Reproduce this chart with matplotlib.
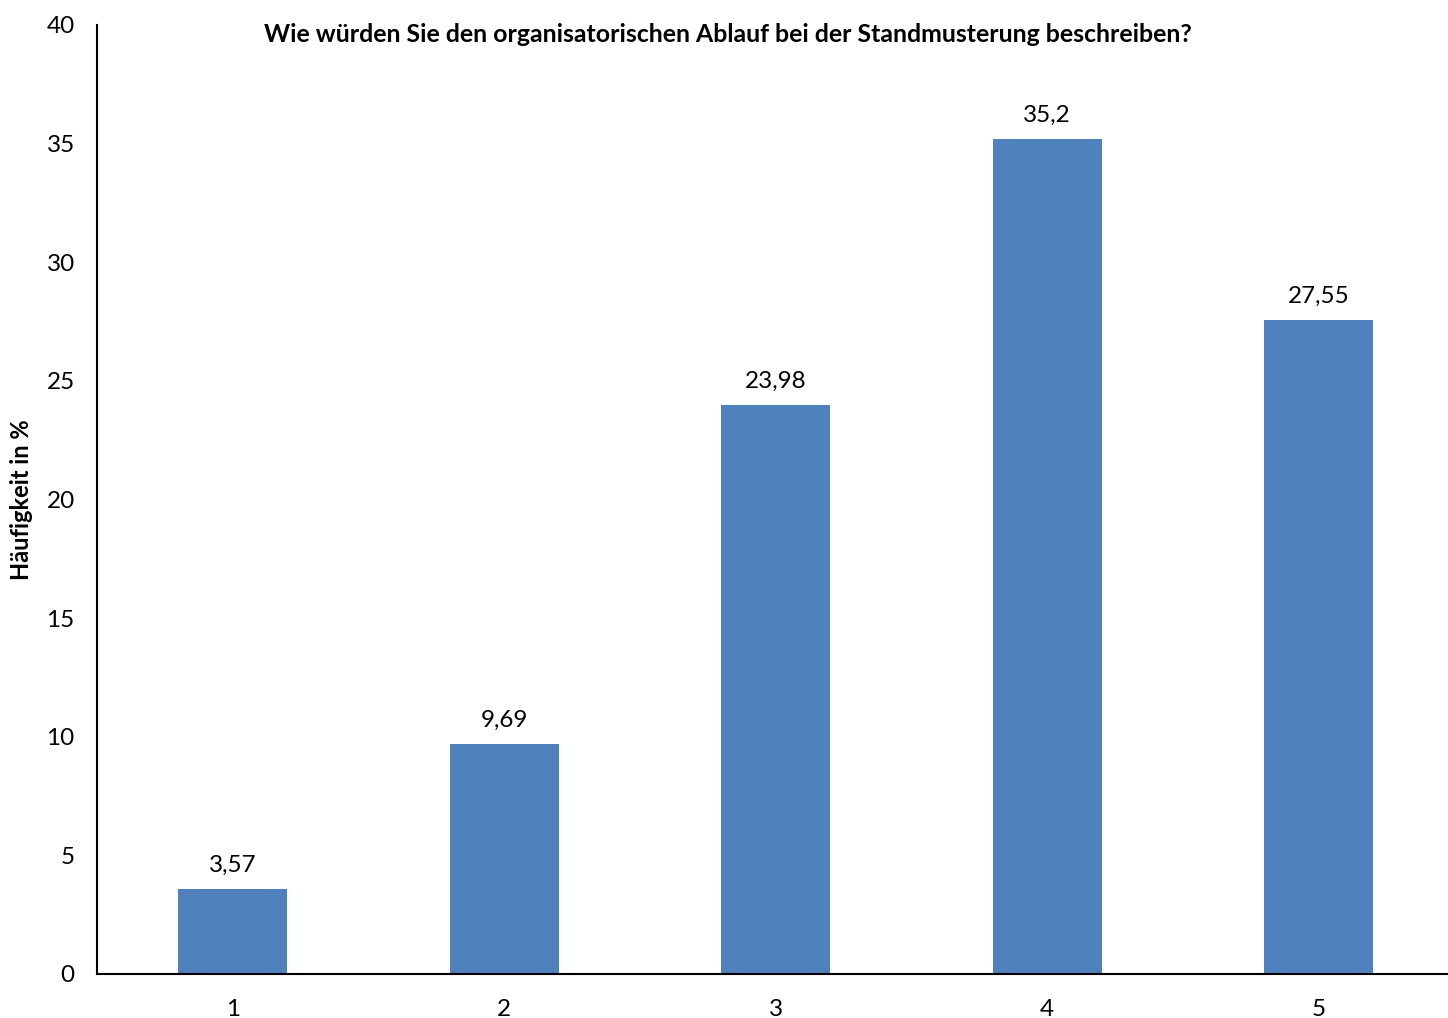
import matplotlib
matplotlib.use("Agg")
import matplotlib.pyplot as plt

categories = [1, 2, 3, 4, 5]
values = [3.57, 9.69, 23.98, 35.2, 27.55]
value_labels = ["3,57", "9,69", "23,98", "35,2", "27,55"]

plt.rcParams['font.family'] = ['Lato', 'DejaVu Sans']

fig = plt.figure(figsize=(14.48, 10.18), dpi=100)
ax = fig.add_axes([97 / 1448, 1 - 974 / 1018, 1 - 97 / 1448, (974 - 25) / 1018])

bars = ax.bar(categories, values, width=0.4, color="#4F81BD")
for b, lab in zip(bars, value_labels):
    ax.text(b.get_x() + b.get_width() / 2, b.get_height() + 0.55, lab,
            ha="center", va="bottom", fontsize=17.5)

ax.set_xlim(0.5, 0.5 + (1448 - 97) / 271.5)
ax.set_ylim(0, 40)
ax.set_xticks(categories)
ax.set_yticks(range(0, 41, 5))
ax.tick_params(length=0, labelsize=17.5)
ax.tick_params(axis="x", pad=18)
ax.tick_params(axis="y", pad=16)
for s in ["top", "right"]:
    ax.spines[s].set_visible(False)
ax.spines["left"].set_linewidth(1.5)
ax.spines["bottom"].set_linewidth(1.5)

ax.set_ylabel("Häufigkeit in %", fontsize=17, fontweight="bold", va="center")
ax.yaxis.set_label_coords(-0.056, 0.5)
ax.text(0.467, 0.99, "Wie würden Sie den organisatorischen Ablauf bei der Standmusterung beschreiben?",
        transform=ax.transAxes, ha="center", va="center", fontsize=17.9, fontweight="bold")

fig.savefig("out.png", dpi=100)
